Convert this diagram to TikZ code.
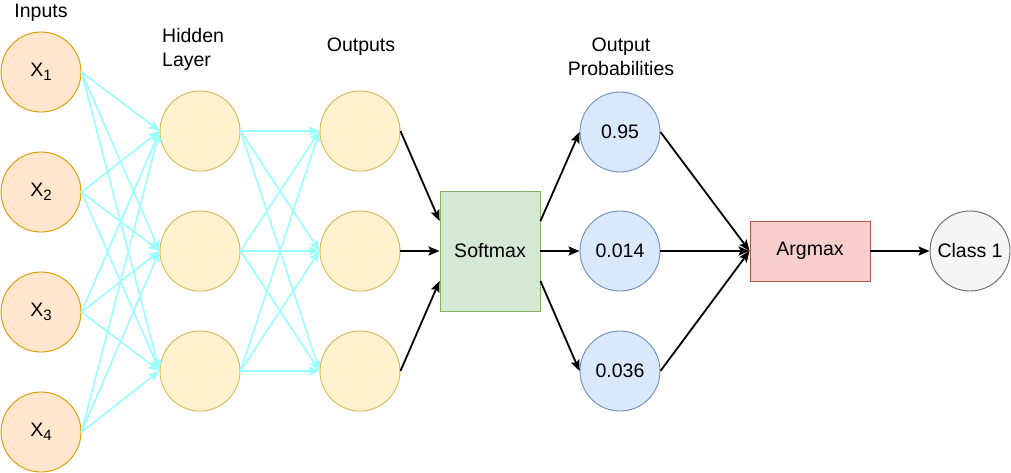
\documentclass[tikz,border=0pt]{standalone}
\usepackage{fontspec}
\setmainfont{Liberation Sans}
\usetikzlibrary{arrows.meta}
\definecolor{inF}{HTML}{FFE6CC}\definecolor{inD}{HTML}{D79B00}
\definecolor{yF}{HTML}{FFF2CC}\definecolor{yD}{HTML}{D6B656}
\definecolor{gF}{HTML}{D5E8D4}\definecolor{gD}{HTML}{82B366}
\definecolor{bF}{HTML}{DAE8FC}\definecolor{bD}{HTML}{6C8EBF}
\definecolor{rF}{HTML}{F8CECC}\definecolor{rD}{HTML}{B85450}
\definecolor{wF}{HTML}{F5F5F5}\definecolor{wD}{HTML}{666666}
\definecolor{cyanE}{HTML}{99FFFF}
\newcommand{\sub}[1]{\raisebox{-0.4ex}{\fontsize{15}{15}\selectfont #1}}
\begin{document}
\begin{tikzpicture}[x=1pt,y=-1pt,
  every node/.style={font=\fontsize{19.5}{24}\selectfont},
  neuron/.style={circle,minimum size=80pt,inner sep=0pt,line width=0.9pt},
  inp/.style={neuron,fill=inF,draw=inD},
  hid/.style={neuron,fill=yF,draw=yD},
  prob/.style={neuron,fill=bF,draw=bD},
  cls/.style={neuron,fill=wF,draw=wD},
  box/.style={rectangle,inner sep=0pt,line width=0.9pt},
  lbl/.style={inner sep=0pt,align=left},
  cedge/.style={draw=cyanE,line width=1.6pt,-{Stealth[length=11pt,width=9pt,inset=2pt]}},
  kedge/.style={draw=black,line width=1.8pt,-{Stealth[length=11pt,width=9pt,inset=2pt]}}]
\useasboundingbox (0,0) rectangle (1011,472);
% labels
\node[lbl] (tin) at (41,13) {Inputs};
\node[lbl,anchor=west] (thid) at (162,49) {Hidden\\Layer};
\node[lbl] (tout) at (361,47) {Outputs};
\node[lbl,align=center] (tprob) at (621,57) {Output\\Probabilities};
% nodes
\node[inp] (in1) at (41,72) {X\sub{1}};
\node[inp] (in2) at (41,192) {X\sub{2}};
\node[inp] (in3) at (41,312) {X\sub{3}};
\node[inp] (in4) at (41,432) {X\sub{4}};
\node[hid] (h1) at (200,131) {};
\node[hid] (h2) at (200,251) {};
\node[hid] (h3) at (200,371) {};
\node[hid] (o1) at (360,131) {};
\node[hid] (o2) at (360,251) {};
\node[hid] (o3) at (360,371) {};
\node[box,fill=gF,draw=gD,minimum width=100pt,minimum height=120pt] (soft) at (490,251) {Softmax};
\node[prob] (p1) at (620,132) {0.95};
\node[prob] (p2) at (620,251) {0.014};
\node[prob] (p3) at (620,371) {0.036};
\node[box,fill=rF,draw=rD,minimum width=120pt,minimum height=60pt] (arg) at (810,251) {Argmax};
\node[cls] (c1) at (970,251) {Class 1};
% cyan edges
\foreach \i in {1,...,4}{\foreach \j in {1,2,3}{\draw[cedge] (in\i.east) -- (h\j.west);}}
\foreach \i in {1,2,3}{\foreach \j in {1,2,3}{\draw[cedge] (h\i.east) -- (o\j.west);}}
% black edges
\draw[kedge] (o1.east) -- ([yshift=30pt]soft.west);
\draw[kedge] (o2.east) -- (soft.west);
\draw[kedge] (o3.east) -- ([yshift=-30pt]soft.west);
\draw[kedge] ([yshift=30pt]soft.east) -- (p1.west);
\draw[kedge] (soft.east) -- (p2.west);
\draw[kedge] ([yshift=-30pt]soft.east) -- (p3.west);
\draw[kedge] (p1.east) -- (arg.west);
\draw[kedge] (p2.east) -- (arg.west);
\draw[kedge] (p3.east) -- (arg.west);
\draw[kedge] (arg.east) -- (c1.west);
\end{tikzpicture}
\end{document}
